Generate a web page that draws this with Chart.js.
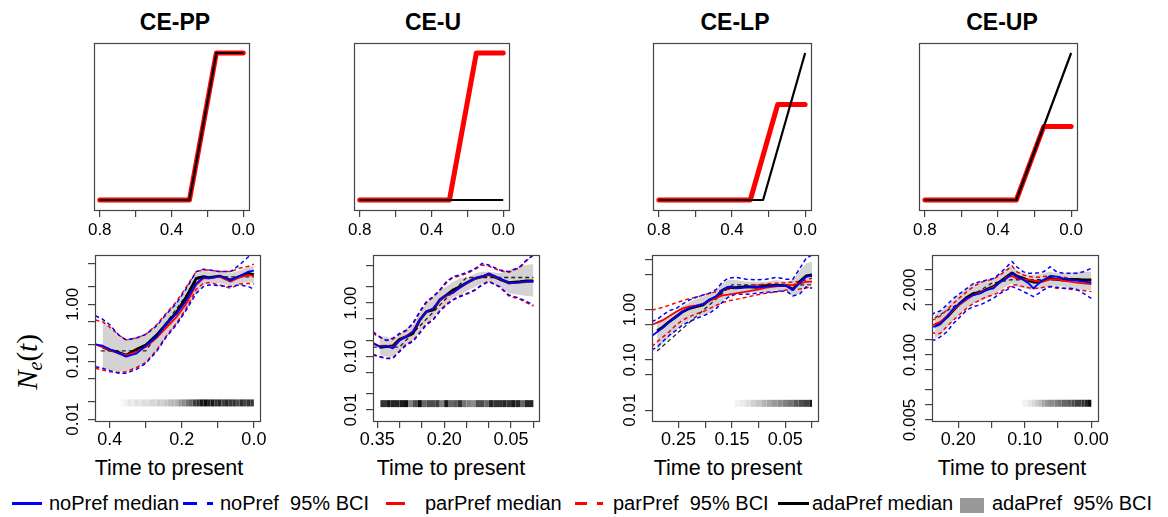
<!DOCTYPE html>
<html>
<head>
<meta charset="utf-8">
<script src="https://cdn.jsdelivr.net/npm/chart.js@4.4.1/dist/chart.umd.min.js"></script>
<style>
 body { margin: 0; background: #fff; }
 #fig { position: relative; width: 1168px; height: 517px; overflow: hidden; background: #fff;
  font-family: "Liberation Sans", Arial, Helvetica, sans-serif; color: #000; }
 #fig canvas { position: absolute; }
 .t { position: absolute; white-space: pre; line-height: 1; transform: translate(-50%, -50%); }
 .title { font-weight: bold; font-size: 23px; }
 .xlab { font-size: 21.5px; }
 .leg { position: absolute; white-space: pre; line-height: 1; font-size: 20px; transform: translateY(-50%); }
 .sw { position: absolute; height: 2.7px; top: 502px; }
 #ylab { position: absolute; left: 29px; top: 362px; font-family: "Liberation Serif", "Times New Roman", serif;
  font-size: 29px; white-space: pre; line-height: 1; transform: translate(-50%, -50%) rotate(-90deg); }
 #ylab sub { font-size: 20px; vertical-align: -5px; }
</style>
</head>
<body>
<div id="fig">
 <div class="t title" style="left:175px; top:22px">CE-PP</div>
 <div class="t title" style="left:433px; top:22px">CE-U</div>
 <div class="t title" style="left:735px; top:22px">CE-LP</div>
 <div class="t title" style="left:1002px; top:22px">CE-UP</div>

 <div class="t xlab" style="left:169px; top:469px">Time to present</div>
 <div class="t xlab" style="left:451px; top:469px">Time to present</div>
 <div class="t xlab" style="left:728px; top:469px">Time to present</div>
 <div class="t xlab" style="left:1012px; top:469px">Time to present</div>

 <div id="ylab"><i>N</i><sub><i>e</i></sub>(<i>t</i>)</div>

 <!-- legend -->
 <div class="sw" style="left:12px; width:30px; background:#0000ff"></div>
 <div class="leg" style="left:49px; top:503px">noPref median</div>
 <div class="sw" style="left:183px; width:14px; background:#0000ff"></div>
 <div class="sw" style="left:207px; width:6px; background:#0000ff"></div>
 <div class="leg" style="left:220px; top:503px">noPref  95% BCI</div>
 <div class="sw" style="left:386px; width:19px; background:#ff0000"></div>
 <div class="leg" style="left:425px; top:503px">parPref median</div>
 <div class="sw" style="left:575px; width:12px; background:#ff0000"></div>
 <div class="sw" style="left:597px; width:6px; background:#ff0000"></div>
 <div class="leg" style="left:613px; top:503px">parPref  95% BCI</div>
 <div class="sw" style="left:778px; width:31px; background:#000"></div>
 <div class="leg" style="left:812px; top:503px">adaPref median</div>
 <div style="position:absolute; left:960px; top:498px; width:24px; height:15px; background:#999"></div>
 <div class="leg" style="left:992px; top:503px">adaPref  95% BCI</div>
</div>

<script>
// ---------- top row: sampling intensity (red) vs true trajectory (black), relative units ----------
const ppRedT = [0.8, 0.3, 0.15, 0],   ppRedY = [0, 0, 1, 1];
const ppBlackT = [0.8, 0.3, 0.15, 0], ppBlackY = [0, 0, 1, 1];
const uRedT = [0.8, 0.3, 0.15, 0],    uRedY = [0, 0, 1, 1];
const uBlackT = [0.8, 0],             uBlackY = [0, 0];
const lpRedT = [0.8, 0.3, 0.15, 0],   lpRedY = [0, 0, 0.65, 0.65];
const lpBlackT = [0.8, 0.23, 0],      lpBlackY = [0, 0, 1];
const upRedT = [0.8, 0.3, 0.15, 0],   upRedY = [0, 0, 0.5, 0.5];
const upBlackT = [0.8, 0.3, 0],       upBlackY = [0, 0, 1];

const topTicks = [0.8, 0.6, 0.4, 0.2, 0];
const topTickLabels = ['0.8', '', '0.4', '', '0.0'];

// ---------- bottom row, CE-PP ----------
const times1 = [0.44, 0.42, 0.40, 0.375, 0.355, 0.325, 0.30, 0.27, 0.245, 0.215, 0.19, 0.16, 0.14, 0.125, 0.095, 0.065, 0.04, 0.015, 0];
const no1Med = [0.20, 0.19, 0.165, 0.14, 0.123, 0.14, 0.19, 0.27, 0.44, 0.68, 1.11, 2.3, 2.95, 2.83, 3.1, 2.6, 3.1, 3.7, 3.85];
const no1Lo = [0.082, 0.077, 0.07, 0.063, 0.063, 0.074, 0.094, 0.15, 0.26, 0.44, 0.75, 1.55, 2.03, 2.17, 2.1, 2.03, 2.17, 2.03, 1.82];
const no1Hi = [0.63, 0.55, 0.44, 0.29, 0.24, 0.26, 0.30, 0.42, 0.65, 1.04, 1.78, 3.7, 4.06, 3.95, 3.7, 3.7, 4.83, 6.7, 7.7];
const par1Med = [0.20, 0.18, 0.16, 0.14, 0.13, 0.15, 0.18, 0.26, 0.38, 0.60, 0.97, 2.17, 2.83, 2.83, 3.03, 2.48, 2.95, 3.24, 3.1];
const par1Lo = [0.077, 0.072, 0.067, 0.065, 0.067, 0.08, 0.097, 0.16, 0.27, 0.47, 0.80, 1.82, 2.32, 2.38, 2.17, 1.9, 2.25, 2.32, 2.25];
const par1Hi = [0.53, 0.50, 0.40, 0.29, 0.24, 0.26, 0.30, 0.44, 0.68, 1.11, 1.9, 3.7, 3.95, 3.95, 3.7, 3.7, 4.23, 4.6, 5.0];
const ada1T = [0.42, 0.40, 0.375, 0.355, 0.325, 0.30, 0.27, 0.245, 0.215, 0.19, 0.16, 0.14, 0.125, 0.095, 0.065, 0.04, 0.015, 0];
const ada1Med = [0.18, 0.16, 0.145, 0.13, 0.165, 0.196, 0.29, 0.44, 0.72, 1.27, 2.83, 3.03, 2.9, 3.1, 2.65, 3.03, 3.46, 3.24];
const ada1Lo = [0.077, 0.07, 0.067, 0.067, 0.077, 0.10, 0.15, 0.26, 0.44, 0.75, 1.55, 2.17, 2.32, 2.32, 2.1, 2.25, 2.48, 2.32];
const ada1Hi = [0.50, 0.40, 0.27, 0.24, 0.27, 0.31, 0.42, 0.65, 1.04, 1.78, 3.46, 3.85, 3.7, 3.7, 3.46, 3.85, 4.52, 4.6];
const truth1T = [0.425, 0.30, 0.15, 0], truth1Y = [0.155, 0.155, 3.0, 3.0];
const strip1T = [0.37, 0.36, 0.35, 0.34, 0.33, 0.32, 0.31, 0.30, 0.29, 0.28, 0.27, 0.26, 0.25, 0.24, 0.23, 0.22, 0.21, 0.20, 0.19,
 0.18, 0.17, 0.16, 0.15, 0.14, 0.13, 0.12, 0.11, 0.10, 0.09, 0.08, 0.07, 0.06, 0.05, 0.04, 0.03, 0.02, 0.01, 0];
const strip1D = [0.03, 0.06, 0.1, 0.08, 0.12, 0.1, 0.14, 0.12, 0.16, 0.15, 0.2, 0.18, 0.22, 0.25, 0.28, 0.3, 0.4, 0.45, 0.55,
 0.6, 0.75, 0.8, 0.9, 0.95, 0.85, 0.9, 0.8, 0.85, 0.75, 0.85, 0.78, 0.8, 0.7, 0.82, 0.75, 0.8, 0.78, 0];
const x1Ticks = [0.4, 0.3, 0.2, 0.1, 0], x1Labels = ['0.4', '', '0.2', '', '0.0'];
const y1Ticks = [0.01, 0.02, 0.05, 0.1, 0.2, 0.5, 1, 2, 5], y1Labels = ['0.01', '', '', '0.10', '', '', '1.00', '', ''];

// ---------- bottom row, CE-U ----------
const times2 = [0.36, 0.345, 0.33, 0.315, 0.30, 0.285, 0.27, 0.255, 0.24, 0.225, 0.21, 0.195, 0.18, 0.165, 0.145, 0.13, 0.115, 0.10, 0.075, 0.055, 0.03, 0.015, 0];
const no2Med = [0.176, 0.153, 0.157, 0.142, 0.20, 0.235, 0.29, 0.48, 0.69, 0.79, 1.14, 1.41, 1.55, 1.93, 2.5, 2.89, 3.1, 3.59, 2.89, 2.33, 2.43, 2.5, 2.58];
const no2Lo = [0.107, 0.099, 0.092, 0.092, 0.123, 0.164, 0.19, 0.27, 0.39, 0.48, 0.69, 0.92, 1.14, 1.31, 1.52, 1.75, 2.17, 2.5, 2.02, 1.41, 1.22, 1.06, 0.92];
const no2Hi = [0.29, 0.235, 0.20, 0.22, 0.27, 0.31, 0.42, 0.69, 1.06, 1.31, 1.75, 2.5, 3.1, 3.34, 3.85, 4.45, 5.5, 5.13, 4.14, 3.85, 4.78, 6.4, 7.9];
const par2Med = [0.18, 0.157, 0.16, 0.148, 0.20, 0.24, 0.30, 0.48, 0.69, 0.79, 1.1, 1.35, 1.58, 1.93, 2.47, 2.85, 3.1, 3.47, 2.85, 2.33, 2.4, 2.47, 2.5];
const par2Lo = [0.11, 0.10, 0.092, 0.095, 0.128, 0.17, 0.198, 0.28, 0.41, 0.49, 0.72, 0.96, 1.17, 1.35, 1.56, 1.8, 2.23, 2.58, 1.96, 1.35, 1.17, 1.01, 0.88];
const par2Hi = [0.27, 0.23, 0.198, 0.21, 0.26, 0.30, 0.41, 0.66, 1.01, 1.28, 1.7, 2.4, 3.0, 3.2, 3.7, 4.3, 5.13, 4.9, 4.0, 3.75, 4.6, 6.2, 7.9];
const ada2T = [0.345, 0.33, 0.315, 0.30, 0.285, 0.27, 0.255, 0.24, 0.225, 0.21, 0.195, 0.18, 0.165, 0.145, 0.13, 0.115, 0.10, 0.075, 0.055, 0.03, 0.015, 0];
const ada2Med = [0.148, 0.153, 0.157, 0.21, 0.235, 0.27, 0.48, 0.69, 0.74, 1.14, 1.41, 1.75, 2.02, 2.5, 2.89, 3.1, 3.43, 2.77, 2.4, 2.5, 2.58, 2.58];
const ada2Lo = [0.107, 0.099, 0.099, 0.132, 0.164, 0.20, 0.29, 0.42, 0.52, 0.74, 0.92, 1.28, 1.41, 1.75, 2.02, 2.33, 2.5, 2.02, 1.52, 1.41, 1.35, 1.31];
const ada2Hi = [0.235, 0.235, 0.21, 0.25, 0.34, 0.39, 0.64, 0.99, 1.31, 1.75, 2.02, 2.5, 2.89, 3.0, 3.59, 3.85, 3.85, 3.59, 4.14, 4.78, 5.13, 5.36];
const truth2T = [0.36, 0.30, 0.15, 0], truth2Y = [0.15, 0.15, 3.0, 3.0];
const strip2T = [0.343, 0.33, 0.32, 0.31, 0.30, 0.29, 0.28, 0.27, 0.26, 0.25, 0.24, 0.23, 0.22, 0.21, 0.20, 0.19, 0.18,
 0.17, 0.16, 0.15, 0.14, 0.13, 0.12, 0.11, 0.10, 0.09, 0.08, 0.07, 0.06, 0.05, 0.04, 0.03, 0.02, 0.01, 0];
const strip2D = [0.8, 0.9, 0.85, 0.85, 0.9, 0.95, 0.5, 0.7, 0.95, 0.6, 0.7, 0.7, 0.75, 0.5, 0.9, 0.6, 0.65,
 0.8, 0.55, 0.5, 0.45, 0.7, 0.7, 0.6, 0.85, 0.8, 0.8, 0.85, 0.8, 0.9, 0.85, 0.6, 0.85, 0.85, 0];
const x2Ticks = [0.35, 0.30, 0.25, 0.20, 0.15, 0.10, 0.05, 0], x2Labels = ['0.35', '', '', '0.20', '', '', '0.05', ''];
const y2Ticks = [0.01, 0.02, 0.05, 0.1, 0.2, 0.5, 1, 2, 5], y2Labels = ['0.01', '', '', '0.10', '', '', '1.00', '', ''];

// ---------- bottom row, CE-LP ----------
const times3 = [0.30, 0.29, 0.28, 0.267, 0.254, 0.242, 0.229, 0.217, 0.204, 0.192, 0.179, 0.167, 0.157, 0.142, 0.123, 0.104, 0.086, 0.067, 0.048, 0.036, 0.023, 0.011, 0];
const no3Med = [0.30, 0.36, 0.43, 0.57, 0.73, 0.93, 1.08, 1.18, 1.28, 1.56, 1.87, 2.46, 2.86, 2.65, 2.78, 2.82, 2.86, 3.0, 2.95, 2.46, 3.34, 4.5, 4.67];
const no3Lo = [0.158, 0.18, 0.23, 0.31, 0.39, 0.50, 0.58, 0.67, 0.75, 0.85, 1.06, 1.44, 1.76, 2.05, 2.02, 2.11, 2.21, 2.28, 2.35, 1.87, 2.05, 2.86, 2.65];
const no3Hi = [0.58, 0.64, 0.77, 0.955, 1.06, 1.30, 1.56, 1.76, 1.96, 2.11, 2.53, 3.6, 4.2, 4.39, 4.0, 3.9, 4.0, 4.39, 4.0, 4.0, 6.6, 10.5, 12.2];
const par3Med = [0.50, 0.55, 0.61, 0.75, 0.91, 1.06, 1.16, 1.22, 1.30, 1.51, 1.70, 1.93, 1.99, 2.11, 2.28, 2.46, 2.74, 2.90, 3.05, 3.09, 3.34, 3.55, 3.6];
const par3Lo = [0.184, 0.23, 0.28, 0.365, 0.50, 0.62, 0.73, 0.82, 0.91, 1.05, 1.22, 1.38, 1.49, 1.60, 1.76, 1.96, 2.11, 2.28, 2.46, 2.5, 2.57, 2.7, 2.86];
const par3Hi = [0.985, 1.03, 1.11, 1.22, 1.38, 1.51, 1.66, 1.76, 1.93, 2.11, 2.28, 2.46, 2.53, 2.65, 2.86, 3.09, 3.24, 3.34, 3.44, 3.55, 3.65, 3.9, 4.2];
const ada3T = [0.29, 0.28, 0.267, 0.254, 0.242, 0.229, 0.217, 0.204, 0.192, 0.179, 0.167, 0.157, 0.142, 0.123, 0.104, 0.086, 0.067, 0.048, 0.036, 0.023, 0.011, 0];
const ada3Med = [0.38, 0.445, 0.58, 0.73, 0.91, 1.06, 1.15, 1.24, 1.56, 1.81, 2.46, 2.78, 2.74, 2.86, 2.78, 2.95, 3.05, 3.0, 2.53, 3.6, 4.67, 4.9];
const ada3Lo = [0.158, 0.21, 0.28, 0.39, 0.51, 0.62, 0.73, 0.78, 0.88, 1.15, 1.56, 1.76, 2.11, 2.11, 2.28, 2.28, 2.46, 2.46, 1.81, 2.11, 3.09, 3.09];
const ada3Hi = [0.58, 0.66, 0.77, 0.985, 1.20, 1.38, 1.63, 1.81, 2.02, 2.46, 3.34, 3.9, 3.9, 3.6, 3.6, 3.6, 3.9, 3.6, 3.9, 6.1, 8.3, 9.0];
const truth3T = [0.29, 0.15, 0], truth3Y = [0.15, 3.1, 3.1];
const strip3T = [0.145, 0.135, 0.125, 0.115, 0.105, 0.095, 0.085, 0.075, 0.065, 0.055, 0.045, 0.035, 0.025, 0.015, 0.005, 0];
const strip3D = [0.05, 0.08, 0.12, 0.18, 0.22, 0.3, 0.35, 0.4, 0.45, 0.5, 0.55, 0.65, 0.7, 0.75, 0.9, 0];
const x3Ticks = [0.25, 0.20, 0.15, 0.10, 0.05, 0], x3Labels = ['0.25', '', '0.15', '', '0.05', ''];
const y3Ticks = [0.01, 0.05, 0.1, 0.5, 1, 5, 10], y3Labels = ['0.01', '', '0.10', '', '1.00', '', ''];

// ---------- bottom row, CE-UP ----------
const times4 = [0.24, 0.235, 0.227, 0.217, 0.207, 0.197, 0.187, 0.177, 0.167, 0.157, 0.147, 0.137, 0.127, 0.119,
 0.112, 0.102, 0.094, 0.087, 0.079, 0.072, 0.062, 0.052, 0.042, 0.032, 0.022, 0.012, 0];
const no4Med = [0.37, 0.37, 0.41, 0.58, 0.86, 1.08, 1.36, 1.58, 1.71, 2.0, 2.15, 2.93, 3.4, 4.3, 3.7, 3.16, 2.7, 2.15, 2.7, 3.16, 3.8, 3.7, 3.4, 3.16, 3.07, 2.93, 2.8];
const no4Lo = [0.20, 0.20, 0.23, 0.29, 0.43, 0.58, 0.79, 0.93, 1.0, 1.17, 1.36, 1.71, 2.0, 2.33, 2.15, 1.85, 1.64, 1.47, 1.71, 2.0, 2.33, 2.26, 2.15, 2.15, 2.06, 1.71, 1.36];
const no4Hi = [0.63, 0.70, 0.76, 1.0, 1.36, 1.71, 2.15, 2.7, 2.93, 3.16, 3.4, 4.3, 5.8, 7.4, 5.8, 4.6, 4.3, 4.3, 4.4, 4.6, 5.8, 4.6, 4.3, 4.3, 4.3, 4.6, 5.4];
const par4Med = [0.40, 0.41, 0.46, 0.6, 0.82, 1.03, 1.29, 1.58, 1.79, 2.0, 2.26, 2.8, 3.6, 3.8, 3.4, 3.26, 3.2, 3.07, 2.93, 2.98, 3.26, 3.26, 3.07, 2.93, 2.8, 2.7, 2.63];
const par4Lo = [0.29, 0.27, 0.27, 0.37, 0.50, 0.66, 0.86, 1.08, 1.26, 1.47, 1.58, 1.85, 2.15, 2.5, 2.5, 2.33, 2.22, 2.15, 2.15, 2.26, 2.33, 2.15, 2.15, 2.06, 2.0, 1.94, 1.85];
const par4Hi = [0.50, 0.52, 0.6, 0.79, 1.08, 1.42, 1.85, 2.33, 2.8, 3.07, 3.3, 3.98, 5.0, 6.0, 4.6, 3.98, 3.7, 3.6, 3.6, 3.7, 3.8, 3.7, 3.6, 3.4, 3.26, 3.16, 2.93];
const ada4T = [0.235, 0.227, 0.217, 0.207, 0.197, 0.187, 0.177, 0.167, 0.157, 0.147, 0.137, 0.127, 0.119,
 0.112, 0.102, 0.094, 0.087, 0.079, 0.072, 0.062, 0.052, 0.042, 0.032, 0.022, 0.012, 0];
const ada4Med = [0.40, 0.43, 0.57, 0.79, 1.08, 1.42, 1.71, 1.77, 2.06, 2.33, 2.93, 3.7, 4.4, 3.8, 3.4, 3.07, 2.88, 2.85, 3.07, 3.4, 3.26, 3.16, 3.26, 3.26, 3.16, 3.16];
const ada4Lo = [0.215, 0.25, 0.34, 0.50, 0.68, 0.86, 1.08, 1.17, 1.36, 1.58, 2.0, 2.33, 2.7, 2.33, 2.15, 2.06, 2.0, 2.06, 2.15, 2.33, 2.33, 2.33, 2.15, 2.06, 2.0, 2.0];
const ada4Hi = [0.63, 0.74, 0.93, 1.26, 1.71, 2.15, 2.7, 2.93, 3.16, 3.4, 4.3, 5.4, 6.3, 5.0, 4.3, 4.05, 3.98, 4.1, 4.3, 4.6, 4.3, 4.3, 4.4, 4.6, 4.6, 4.6];
const truth4T = [0.235, 0.15, 0.12, 0], truth4Y = [0.55, 2.7, 3.2, 3.2];
const strip4T = [0.104, 0.095, 0.09, 0.085, 0.08, 0.075, 0.07, 0.065, 0.06, 0.055, 0.05, 0.045, 0.04, 0.035, 0.03, 0.025, 0.02, 0.015, 0.01, 0.005, 0];
const strip4D = [0.05, 0.1, 0.15, 0.2, 0.25, 0.35, 0.4, 0.45, 0.45, 0.5, 0.55, 0.6, 0.6, 0.65, 0.7, 0.75, 0.75, 0.8, 0.85, 0.95, 0];
const x4Ticks = [0.20, 0.15, 0.10, 0.05, 0], x4Labels = ['0.20', '', '0.10', '', '0.00'];
const y4Ticks = [0.005, 0.01, 0.02, 0.05, 0.1, 0.2, 1, 2, 5], y4Labels = ['0.005', '', '', '', '0.100', '', '', '2.000', ''];

// ---------- layout (page pixels of each plot box) ----------
const topBoxes = [
 { l: 94, t: 43, w: 155, h: 167 }, { l: 354, t: 43, w: 155, h: 167 },
 { l: 653, t: 43, w: 158, h: 167 }, { l: 919, t: 43, w: 158, h: 167 }
];
const bottomBoxes = [
 { l: 95, t: 255, w: 165, h: 166, x: [-0.017, 0.441], y: [0.0093, 7.2], strip: 0.0192 },
 { l: 373, t: 255, w: 166, h: 166, x: [-0.0126, 0.3596], y: [0.0062, 7.9], strip: 0.0131 },
 { l: 652, t: 255, w: 166, h: 166, x: [-0.0112, 0.2996], y: [0.0061, 12.2], strip: 0.0137 },
 { l: 932, t: 255, w: 166, h: 166, x: [-0.010, 0.2393], y: [0.00477, 10], strip: 0.0108 }
];

const pts = (xs, ys) => xs.map((x, i) => ({ x: x, y: ys[i] }));
const grey = d => { const v = Math.round(255 * (1 - d)); return 'rgb(' + v + ',' + v + ',' + v + ')'; };
const FONT = '"Liberation Sans", Arial, sans-serif';

// box, R-style tick labels (y labels turned 90 degrees)
const rAxes = {
 id: 'rAxes',
 afterDraw(chart, args, o) {
  const { ctx, chartArea: a } = chart;
  ctx.save();
  ctx.strokeStyle = '#444';
  ctx.lineWidth = 1.2;
  ctx.strokeRect(a.left + 0.5, a.top + 0.5, a.right - a.left, a.bottom - a.top);
  ctx.fillStyle = '#000';
  ctx.textAlign = 'center';
  ctx.textBaseline = 'middle';
  ctx.font = o.xFont;
  const xs = chart.scales.x;
  o.xTicks.forEach((v, i) => {
   if (o.xLabels[i]) ctx.fillText(o.xLabels[i], xs.getPixelForValue(v), a.bottom + o.xGap);
  });
  if (o.yTicks) {
   const ys = chart.scales.y;
   ctx.font = o.yFont;
   o.yTicks.forEach((v, i) => {
    if (!o.yLabels[i]) return;
    ctx.save();
    ctx.translate(a.left - o.yGap, ys.getPixelForValue(v));
    ctx.rotate(-Math.PI / 2);
    ctx.fillText(o.yLabels[i], 0, 0);
    ctx.restore();
   });
  }
  ctx.restore();
 }
};

const tickGrid = { display: true, drawOnChartArea: false, drawTicks: true, tickLength: 7, color: '#444', lineWidth: 1.2 };

function xScale(range, ticks) {
 return {
  type: 'linear', position: 'bottom', reverse: true, min: range[0], max: range[1], offset: false,
  afterBuildTicks: s => { s.ticks = ticks.map(v => ({ value: v })); },
  afterFit: s => { s.height = 36; },
  grid: tickGrid, border: { display: false }, ticks: { display: false }
 };
}

function makeCanvas(box) {
 const c = document.createElement('canvas');
 const w = box.w + 78, h = box.h + 46;
 c.width = w; c.height = h;
 c.style.left = (box.l - 60) + 'px';
 c.style.top = (box.t - 10) + 'px';
 c.style.width = w + 'px';
 c.style.height = h + 'px';
 document.getElementById('fig').appendChild(c);
 return c;
}

const baseOpts = {
 responsive: false, animation: false, devicePixelRatio: 1,
 layout: { padding: { left: 0, top: 10, right: 18, bottom: 0 } },
 elements: { point: { radius: 0 }, line: { tension: 0 } }
};

function line(data, color, width, dash) {
 return { data: data, borderColor: color, borderWidth: width, borderDash: dash || [], pointRadius: 0,
  fill: false, borderCapStyle: 'butt', borderJoinStyle: 'round' };
}

// ---------- top row ----------
const topPanels = [
 { redT: ppRedT, redY: ppRedY, blackT: ppBlackT, blackY: ppBlackY },
 { redT: uRedT, redY: uRedY, blackT: uBlackT, blackY: uBlackY },
 { redT: lpRedT, redY: lpRedY, blackT: lpBlackT, blackY: lpBlackY },
 { redT: upRedT, redY: upRedY, blackT: upBlackT, blackY: upBlackY }
];

topPanels.forEach((p, i) => {
 const box = topBoxes[i];
 const red = line(pts(p.redT, p.redY), '#ff0000', 5);
 red.borderCapStyle = 'round';
 new Chart(makeCanvas(box), {
  type: 'line',
  data: { datasets: [line(pts(p.blackT, p.blackY), '#000', 2.2), red] },
  options: Object.assign({}, baseOpts, {
   scales: {
    x: xScale([-0.032, 0.832], topTicks),
    y: { type: 'linear', min: -0.068, max: 1.068, afterFit: s => { s.width = 60; },
     grid: { display: false }, border: { display: false }, ticks: { display: false } }
   },
   plugins: {
    legend: { display: false }, tooltip: { enabled: false },
    rAxes: { xTicks: topTicks, xLabels: topTickLabels, xGap: 20, xFont: '17px ' + FONT }
   }
  }),
  plugins: [rAxes]
 });
});

// ---------- bottom row ----------
const bottomPanels = [
 { t: times1, noMed: no1Med, noLo: no1Lo, noHi: no1Hi, parMed: par1Med, parLo: par1Lo, parHi: par1Hi,
  adaT: ada1T, adaMed: ada1Med, adaLo: ada1Lo, adaHi: ada1Hi, truthT: truth1T, truthY: truth1Y,
  stripT: strip1T, stripD: strip1D, xt: x1Ticks, xl: x1Labels, yt: y1Ticks, yl: y1Labels },
 { t: times2, noMed: no2Med, noLo: no2Lo, noHi: no2Hi, parMed: par2Med, parLo: par2Lo, parHi: par2Hi,
  adaT: ada2T, adaMed: ada2Med, adaLo: ada2Lo, adaHi: ada2Hi, truthT: truth2T, truthY: truth2Y,
  stripT: strip2T, stripD: strip2D, xt: x2Ticks, xl: x2Labels, yt: y2Ticks, yl: y2Labels },
 { t: times3, noMed: no3Med, noLo: no3Lo, noHi: no3Hi, parMed: par3Med, parLo: par3Lo, parHi: par3Hi,
  adaT: ada3T, adaMed: ada3Med, adaLo: ada3Lo, adaHi: ada3Hi, truthT: truth3T, truthY: truth3Y,
  stripT: strip3T, stripD: strip3D, xt: x3Ticks, xl: x3Labels, yt: y3Ticks, yl: y3Labels },
 { t: times4, noMed: no4Med, noLo: no4Lo, noHi: no4Hi, parMed: par4Med, parLo: par4Lo, parHi: par4Hi,
  adaT: ada4T, adaMed: ada4Med, adaLo: ada4Lo, adaHi: ada4Hi, truthT: truth4T, truthY: truth4Y,
  stripT: strip4T, stripD: strip4D, xt: x4Ticks, xl: x4Labels, yt: y4Ticks, yl: y4Labels }
];

const dash = [4, 3];

bottomPanels.forEach((p, i) => {
 const box = bottomBoxes[i];
 const strip = line(p.stripT.map(t => ({ x: t, y: box.strip })), '#888', 7);
 strip.segment = { borderColor: c => grey(p.stripD[c.p0DataIndex]) };
 // first dataset is painted last (on top)
 const sets = [
  line(pts(p.t, p.noMed), '#0000ff', 1.8),
  line(pts(p.t, p.parMed), '#ff0000', 1.8),
  line(pts(p.adaT, p.adaMed), '#000', 2.8),
  line(pts(p.t, p.noHi), '#0000ff', 1.5, dash),
  line(pts(p.t, p.noLo), '#0000ff', 1.5, dash),
  line(pts(p.t, p.parHi), '#ff0000', 1.5, dash),
  line(pts(p.t, p.parLo), '#ff0000', 1.5, dash),
  line(pts(p.truthT, p.truthY), '#222', 1.3, dash),
  strip,
  { data: pts(p.adaT, p.adaHi), borderWidth: 0, borderColor: 'transparent', pointRadius: 0, fill: '+1', backgroundColor: '#d3d3d3' },
  { data: pts(p.adaT, p.adaLo), borderWidth: 0, borderColor: 'transparent', pointRadius: 0, fill: false }
 ];
 new Chart(makeCanvas(box), {
  type: 'line',
  data: { datasets: sets },
  options: Object.assign({}, baseOpts, {
   scales: {
    x: xScale(box.x, p.xt),
    y: { type: 'logarithmic', position: 'left', min: box.y[0], max: box.y[1],
     afterBuildTicks: s => { s.ticks = p.yt.map(v => ({ value: v })); },
     afterFit: s => { s.width = 60; },
     grid: tickGrid, border: { display: false }, ticks: { display: false } }
   },
   plugins: {
    legend: { display: false }, tooltip: { enabled: false },
    rAxes: { xTicks: p.xt, xLabels: p.xl, xGap: 19, xFont: '18px ' + FONT,
     yTicks: p.yt, yLabels: p.yl, yGap: 22, yFont: '17px ' + FONT }
   }
  }),
  plugins: [rAxes]
 });
});
</script>
</body>
</html>
